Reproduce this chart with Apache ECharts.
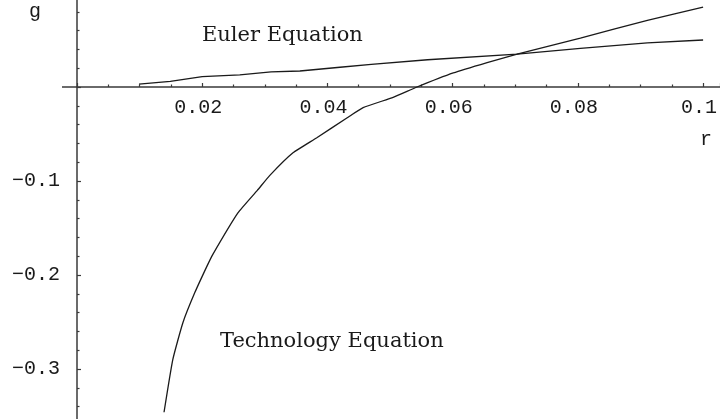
<!DOCTYPE html>
<html>
<head>
<meta charset="utf-8">
<script src="https://cdn.jsdelivr.net/npm/echarts@6/dist/echarts.min.js"></script>
<style>
  html, body { margin: 0; padding: 0; background: #fff; }
  #main { width: 720px; height: 419px; }
</style>
</head>
<body>
<div id="main"></div>
<script>
// Euler equation curve (r, g)
var rEuler = [0.0099, 0.0149, 0.020, 0.026, 0.031, 0.0356, 0.042, 0.047, 0.056, 0.0703, 0.0804, 0.0911, 0.100];
var gEuler = [0.003, 0.006, 0.011, 0.013, 0.016, 0.017, 0.021, 0.024, 0.029, 0.035, 0.041, 0.047, 0.050];

// Technology equation curve (r, g)
var rTech = [0.0139, 0.0153, 0.0169, 0.0188, 0.0208, 0.0217, 0.0257, 0.0288, 0.0308, 0.0345, 0.0383, 0.0431, 0.0457, 0.0505, 0.0543, 0.0601, 0.0655, 0.0703, 0.0804, 0.0911, 0.100];
var gTech = [-0.346, -0.290, -0.251, -0.219, -0.190, -0.178, -0.134, -0.110, -0.094, -0.070, -0.054, -0.033, -0.022, -0.011, 0, 0.015, 0.026, 0.035, 0.052, 0.071, 0.085];

// axis names and curve labels
var xName = "r";
var yName = "g";
var eulerLabel = "Euler Equation";
var techLabel = "Technology Equation";

function pairs(xs, ys) {
  return xs.map(function (x, i) { return [x, ys[i]]; });
}

// tick labels: hide 0, use a real minus sign
function tickText(step) {
  return function (v) {
    if (Math.abs(v) < 1e-9) return "";
    if (Math.abs(v / step - Math.round(v / step)) > 1e-6) return "";
    var s = String(Math.abs(+v.toFixed(3)));
    return (v < 0 ? "\u2212" : "") + s;
  };
}

var ink = "#1a1a1a";
var axisInk = "#3a3a3a";
var monoFont = "Liberation Mono";
var serifFont = "DejaVu Serif";

var myChart = echarts.init(document.getElementById("main"));

var option = {
  backgroundColor: "#fff",
  animation: false,
  grid: {
    left: 77,
    right: 0,
    top: -7,
    height: 470,
    containLabel: false,
    outerBoundsMode: "none"
  },
  xAxis: {
    type: "value",
    position: "bottom",
    // the grid runs below the picture, so lift the axis up to g = 0
    offset: -376,
    min: 0,
    max: 0.1027,
    interval: 0.02,
    axisLine: { onZero: false, lineStyle: { color: axisInk, width: 1.5 } },
    axisTick: { inside: true, length: 4, lineStyle: { color: axisInk, width: 1.2 } },
    minorTick: { show: true, splitNumber: 4, length: 2.5, lineStyle: { color: axisInk, width: 1.2 } },
    splitLine: { show: false },
    axisLabel: {
      formatter: tickText(0.02),
      fontFamily: monoFont,
      fontSize: 20,
      color: ink,
      margin: 11,
      padding: [0, 8, 0, 0]
    }
  },
  yAxis: {
    type: "value",
    min: -0.4,
    max: 0.1,
    interval: 0.1,
    axisLine: { onZero: true, lineStyle: { color: axisInk, width: 1.5 } },
    axisTick: { inside: true, length: 4, lineStyle: { color: axisInk, width: 1.2 } },
    minorTick: { show: true, splitNumber: 5, length: 2.5, lineStyle: { color: axisInk, width: 1.2 } },
    splitLine: { show: false },
    axisLabel: {
      formatter: tickText(0.1),
      fontFamily: monoFont,
      fontSize: 20,
      color: ink,
      margin: 17
    }
  },
  series: [
    {
      name: eulerLabel,
      type: "line",
      data: pairs(rEuler, gEuler),
      showSymbol: false,
      lineStyle: { color: ink, width: 1.3 }
    },
    {
      name: techLabel,
      type: "line",
      data: pairs(rTech, gTech),
      showSymbol: false,
      smooth: 0.15,
      lineStyle: { color: ink, width: 1.3 }
    }
  ],
  graphic: [
    // x axis runs a little past the y axis on the left
    {
      type: "line",
      shape: { x1: 62, y1: 87, x2: 77, y2: 87 },
      style: { stroke: axisInk, lineWidth: 1.5 }
    },
    {
      type: "text",
      x: 35, y: 12,
      style: { text: yName, font: "20px " + monoFont, fill: ink, align: "center", verticalAlign: "middle" }
    },
    {
      type: "text",
      x: 706, y: 140,
      style: { text: xName, font: "20px " + monoFont, fill: ink, align: "center", verticalAlign: "middle" }
    },
    {
      type: "text",
      x: 202, y: 36,
      style: { text: eulerLabel, font: "21px " + serifFont, fill: ink, align: "left", verticalAlign: "middle" }
    },
    {
      type: "text",
      x: 220, y: 342,
      style: { text: techLabel, font: "21px " + serifFont, fill: ink, align: "left", verticalAlign: "middle" }
    }
  ]
};

option && myChart.setOption(option);
</script>
</body>
</html>
